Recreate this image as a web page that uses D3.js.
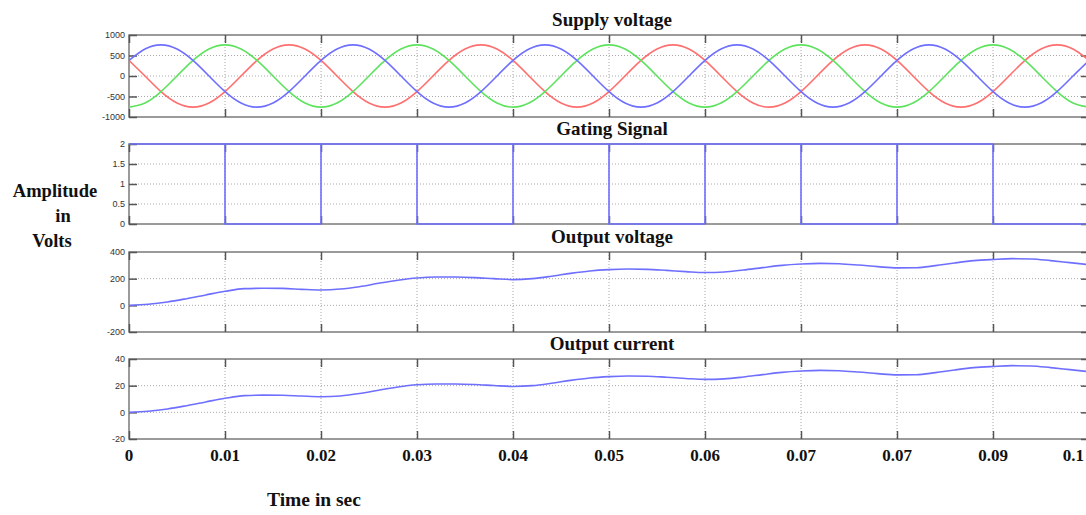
<!DOCTYPE html>
<html>
<head>
<meta charset="utf-8">
<script src="https://cdn.jsdelivr.net/npm/d3@7"></script>
<style>
  html, body { margin: 0; padding: 0; background: #fff; }
  svg { display: block; }
  .ytick text { font-family: "Liberation Sans", Arial, sans-serif; font-size: 9px; fill: #333; }
  .title, .xlab, .axlabel { font-family: "Liberation Serif", "Times New Roman", serif; font-weight: bold; fill: #111; }
</style>
</head>
<body>
<svg id="chart" width="1086" height="515"></svg>
<script>
// ---- time axis ----
const xTickValues = [0, 0.01, 0.02, 0.03, 0.04, 0.05, 0.06, 0.07, 0.08, 0.09, 0.1];
const xTickLabels = ["0", "0.01", "0.02", "0.03", "0.04", "0.05", "0.06", "0.07", "0.07", "0.09", "0.1"];

// ---- supply voltage (three phases), sampled every 1/600 s ----
const supplyTime = d3.range(61).map(i => i / 600);
const phaseRed = [
  380, 0, -380, -658, -760, -658, -380, 0, 380, 658, 760, 658,
  380, 0, -380, -658, -760, -658, -380, 0, 380, 658, 760, 658,
  380, 0, -380, -658, -760, -658, -380, 0, 380, 658, 760, 658,
  380, 0, -380, -658, -760, -658, -380, 0, 380, 658, 760, 658,
  380, 0, -380, -658, -760, -658, -380, 0, 380, 658, 760, 658,
  380];
const phaseBlue = [
  380, 658, 760, 658, 380, 0, -380, -658, -760, -658, -380, 0,
  380, 658, 760, 658, 380, 0, -380, -658, -760, -658, -380, 0,
  380, 658, 760, 658, 380, 0, -380, -658, -760, -658, -380, 0,
  380, 658, 760, 658, 380, 0, -380, -658, -760, -658, -380, 0,
  380, 658, 760, 658, 380, 0, -380, -658, -760, -658, -380, 0,
  380];
const phaseGreen = [
  -760, -658, -380, 0, 380, 658, 760, 658, 380, 0, -380, -658,
  -760, -658, -380, 0, 380, 658, 760, 658, 380, 0, -380, -658,
  -760, -658, -380, 0, 380, 658, 760, 658, 380, 0, -380, -658,
  -760, -658, -380, 0, 380, 658, 760, 658, 380, 0, -380, -658,
  -760, -658, -380, 0, 380, 658, 760, 658, 380, 0, -380, -658,
  -760];

// ---- gating signal, one level per 0.01 s interval ----
const gateTime = [0, 0.01, 0.02, 0.03, 0.04, 0.05, 0.06, 0.07, 0.08, 0.09, 0.1];
const gateA = [2, 0, 2, 0, 2, 0, 2, 0, 2, 0, 0];
const gateB = [null, 2, null, 2, null, 2, null, 2, null, null, null];

// ---- load output, sampled every 0.002 s ----
const outTime = d3.range(51).map(i => i * 0.002);
const outVoltage = [
  0, 8, 25, 50, 78, 105, 125, 128, 127, 120,
  115, 122, 140, 165, 188, 205, 212, 212, 208, 200,
  193, 200, 218, 240, 258, 268, 272, 270, 262, 253,
  246, 250, 265, 283, 300, 310, 315, 312, 302, 290,
  281, 282, 298, 318, 335, 344, 350, 348, 335, 320,
  305];
const outCurrent = [
  0, 0.8, 2.5, 5, 7.8, 10.5, 12.5, 12.9, 12.8, 12.2,
  11.7, 12.3, 14.1, 16.6, 19, 20.7, 21.3, 21.3, 20.9, 20.1,
  19.4, 20, 21.8, 24, 25.8, 26.8, 27.3, 27.1, 26.3, 25.4,
  24.7, 25.1, 26.5, 28.3, 30, 31, 31.5, 31.2, 30.2, 29,
  28.1, 28.2, 29.8, 31.8, 33.5, 34.4, 35, 34.8, 33.5, 32,
  30.5];

// ---- y ticks per panel ----
const supplyTicks = [-1000, -500, 0, 500, 1000];
const gateTicks = [0, 0.5, 1, 1.5, 2];
const voltageTicks = [-200, 0, 200, 400];
const currentTicks = [-20, 0, 20, 40];

const W = 1086, H = 515;
const svg = d3.select("#chart");
const x = d3.scaleLinear().domain([0, 0.1]).range([129, 1089]);
const [x0, x1] = x.range();

const BLUE = "#6f6fff", RED = "#ff6f6f", GREEN = "#5fe35f";

const panels = [
  { title: "Supply voltage", top: 35, bottom: 117, domain: [-1000, 1000], ticks: supplyTicks,
    series: [
      { t: supplyTime, v: phaseRed, color: RED, curve: d3.curveNatural },
      { t: supplyTime, v: phaseGreen, color: GREEN, curve: d3.curveNatural },
      { t: supplyTime, v: phaseBlue, color: BLUE, curve: d3.curveNatural }
    ] },
  { title: "Gating Signal", top: 144, bottom: 224, domain: [0, 2], ticks: gateTicks,
    series: [
      { t: gateTime, v: gateA, color: BLUE, curve: d3.curveStepAfter },
      { t: gateTime, v: gateB, color: BLUE, curve: d3.curveStepAfter, gaps: true }
    ] },
  { title: "Output voltage", top: 252, bottom: 332, domain: [-200, 400], ticks: voltageTicks,
    series: [{ t: outTime, v: outVoltage, color: BLUE, curve: d3.curveMonotoneX }] },
  { title: "Output current", top: 359, bottom: 439, domain: [-20, 40], ticks: currentTicks,
    series: [{ t: outTime, v: outCurrent, color: BLUE, curve: d3.curveMonotoneX }] }
];

const defs = svg.append("defs");

panels.forEach((p, pi) => {
  const y = d3.scaleLinear().domain(p.domain).range([p.bottom, p.top]);
  const g = svg.append("g");

  defs.append("clipPath").attr("id", "clip" + pi)
    .append("rect").attr("x", x0).attr("y", p.top - 2)
    .attr("width", x1 - x0).attr("height", p.bottom - p.top + 4);

  // dotted grid
  const inner = p.ticks.filter(v => v !== p.domain[0] && v !== p.domain[1]);
  g.append("g").selectAll("line").data(inner).join("line")
    .attr("x1", x0).attr("x2", x1)
    .attr("y1", d => y(d)).attr("y2", d => y(d))
    .attr("stroke", "#a8a8a8").attr("stroke-width", 1).attr("stroke-dasharray", "1,2");
  g.append("g").selectAll("line").data(xTickValues.slice(1, -1)).join("line")
    .attr("x1", d => x(d)).attr("x2", d => x(d))
    .attr("y1", p.top).attr("y2", p.bottom)
    .attr("stroke", "#a8a8a8").attr("stroke-width", 1).attr("stroke-dasharray", "1,2");

  // frame
  g.append("rect").attr("x", x0).attr("y", p.top)
    .attr("width", x1 - x0).attr("height", p.bottom - p.top)
    .attr("fill", "none").attr("stroke", "#7a7a7a").attr("stroke-width", 1.5);

  // inward ticks on all four sides
  const left = d3.axisLeft(y).tickValues(p.ticks).tickSize(-8).tickPadding(4)
    .tickFormat(d3.format("~g"));
  const la = g.append("g").attr("class", "ytick").attr("transform", `translate(${x0},0)`).call(left);
  la.select(".domain").remove();
  la.selectAll(".tick line").attr("stroke", "#555").attr("stroke-width", 1.5);
  la.selectAll(".tick text").text(d => d < 0 ? "-" + Math.abs(d) : d);

  const right = d3.axisRight(y).tickValues(p.ticks).tickSize(-8).tickFormat("");
  const ra = g.append("g").attr("transform", `translate(${x1},0)`).call(right);
  ra.select(".domain").remove();
  ra.selectAll(".tick line").attr("stroke", "#555").attr("stroke-width", 1.5);

  const topAx = d3.axisTop(x).tickValues(xTickValues).tickSize(-8).tickFormat("");
  const ta = g.append("g").attr("transform", `translate(0,${p.top})`).call(topAx);
  ta.select(".domain").remove();
  ta.selectAll(".tick line").attr("stroke", "#555").attr("stroke-width", 1.5);

  const botAx = d3.axisBottom(x).tickValues(xTickValues).tickSize(-8).tickFormat("");
  const ba = g.append("g").attr("transform", `translate(0,${p.bottom})`).call(botAx);
  ba.select(".domain").remove();
  ba.selectAll(".tick line").attr("stroke", "#555").attr("stroke-width", 1.5);

  // data
  const plot = g.append("g").attr("clip-path", `url(#clip${pi})`);
  p.series.forEach(s => {
    const pts = s.t.map((t, i) => [t, s.v[i]]);
    const line = d3.line()
      .defined(d => d[1] !== null)
      .x(d => x(d[0])).y(d => y(d[1]))
      .curve(s.curve);
    let data = pts;
    if (s.gaps) {
      // each high level holds until the next sample time
      data = [];
      pts.forEach((d, i) => {
        if (d[1] !== null && i + 1 < pts.length) {
          data.push(d, [pts[i + 1][0], d[1]], [pts[i + 1][0], null]);
        }
      });
    }
    plot.append("path").datum(data)
      .attr("fill", "none").attr("stroke", s.color)
      .attr("stroke-width", 1.6).attr("stroke-linejoin", "round")
      .attr("d", line);
  });

  // panel title
  svg.append("text").attr("class", "title")
    .attr("x", 612).attr("y", p.top - 9)
    .attr("text-anchor", "middle").attr("font-size", 19)
    .text(p.title);
});

// time tick labels under the bottom panel
const xl = svg.append("g");
xTickValues.forEach((t, i) => {
  const txt = xl.append("text").attr("class", "xlab")
    .attr("y", 461).attr("font-size", 17).attr("text-anchor", "middle")
    .text(xTickLabels[i]);
  const w = txt.node().getComputedTextLength();
  const cx = Math.min(x(t), W - w / 2 - 2);
  txt.attr("x", cx);
});

// axis captions
svg.append("text").attr("class", "axlabel").attr("x", 314).attr("y", 506)
  .attr("text-anchor", "middle").attr("font-size", 19.5).text("Time in sec");
const amp = svg.append("text").attr("class", "axlabel").attr("font-size", 18.5).attr("text-anchor", "middle");
amp.append("tspan").attr("x", 55).attr("y", 197).text("Amplitude");
amp.append("tspan").attr("x", 63).attr("y", 222).text("in");
amp.append("tspan").attr("x", 52).attr("y", 247).text("Volts");
</script>
</body>
</html>
